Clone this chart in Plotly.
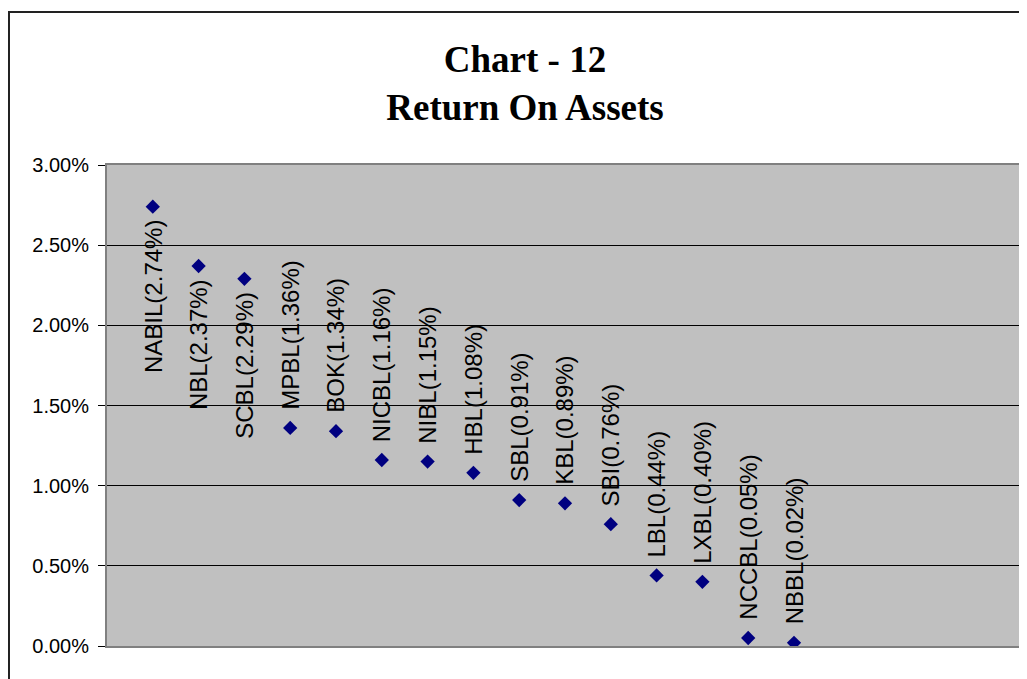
import plotly.graph_objects as go

# Return on assets per bank
BANKS = ["NABIL", "NBL", "SCBL", "MPBL", "BOK", "NICBL", "NIBL", "HBL",
         "SBL", "KBL", "SBI", "LBL", "LXBL", "NCCBL", "NBBL"]
ROA = [2.74, 2.37, 2.29, 1.36, 1.34, 1.16, 1.15, 1.08,
       0.91, 0.89, 0.76, 0.44, 0.40, 0.05, 0.02]
# label side relative to the marker (style only)
LABEL_SIDE = ["below", "below", "below"] + ["above"] * 12

xs = list(range(1, len(BANKS) + 1))
ys = [v / 100 for v in ROA]

# page body has an 8px margin, so the figure is a bit smaller than the window
W, H = 1019, 671

fig = go.Figure()
fig.add_trace(go.Scatter(
    x=xs, y=ys, mode="markers",
    marker=dict(symbol="diamond", size=11, color="#000080"),
    showlegend=False, hoverinfo="skip",
))

for x, y, name, v, side in zip(xs, ys, BANKS, ROA, LABEL_SIDE):
    below = side == "below"
    fig.add_annotation(
        x=x, y=y, xref="x", yref="y",
        text=f"{name}({v:.2f}%)", showarrow=False, textangle=-90,
        xanchor="center", yanchor="top" if below else "bottom",
        yshift=-11 if below else 16,
        font=dict(family="Liberation Sans, Arial", size=24, color="black"),
    )

# outer chart frame
fig.add_shape(type="rect", xref="paper", yref="paper",
              x0=-0.107, x1=1.05, y0=-0.2, y1=1.318,
              line=dict(color="#222222", width=2), layer="below")

fig.update_layout(
    width=W, height=H,
    margin=dict(l=99, r=4, t=157, b=33),
    paper_bgcolor="white", plot_bgcolor="#C0C0C0",
    title=dict(
        text="<b>Chart - 12</b><br><b>Return On Assets</b>",
        x=517 / W, xanchor="center", y=0.905, yanchor="top",
        font=dict(family="Liberation Serif, Times New Roman", size=37, color="black"),
    ),
    showlegend=False,
)
fig.update_xaxes(range=[0, 20], showticklabels=False, showgrid=False,
                 zeroline=False, ticks="", showline=True, mirror=True,
                 linecolor="#808080", linewidth=2)
fig.update_yaxes(range=[0, 0.03], dtick=0.005, tickformat=".2%",
                 showgrid=True, gridcolor="black", gridwidth=1,
                 zeroline=False, ticks="outside", ticklen=7, tickcolor="black",
                 ticklabelstandoff=5, automargin=False,
                 showline=True, mirror=True, linecolor="#808080", linewidth=2,
                 tickfont=dict(family="Liberation Sans, Arial", size=20, color="black"))

fig.write_html("out.html")
